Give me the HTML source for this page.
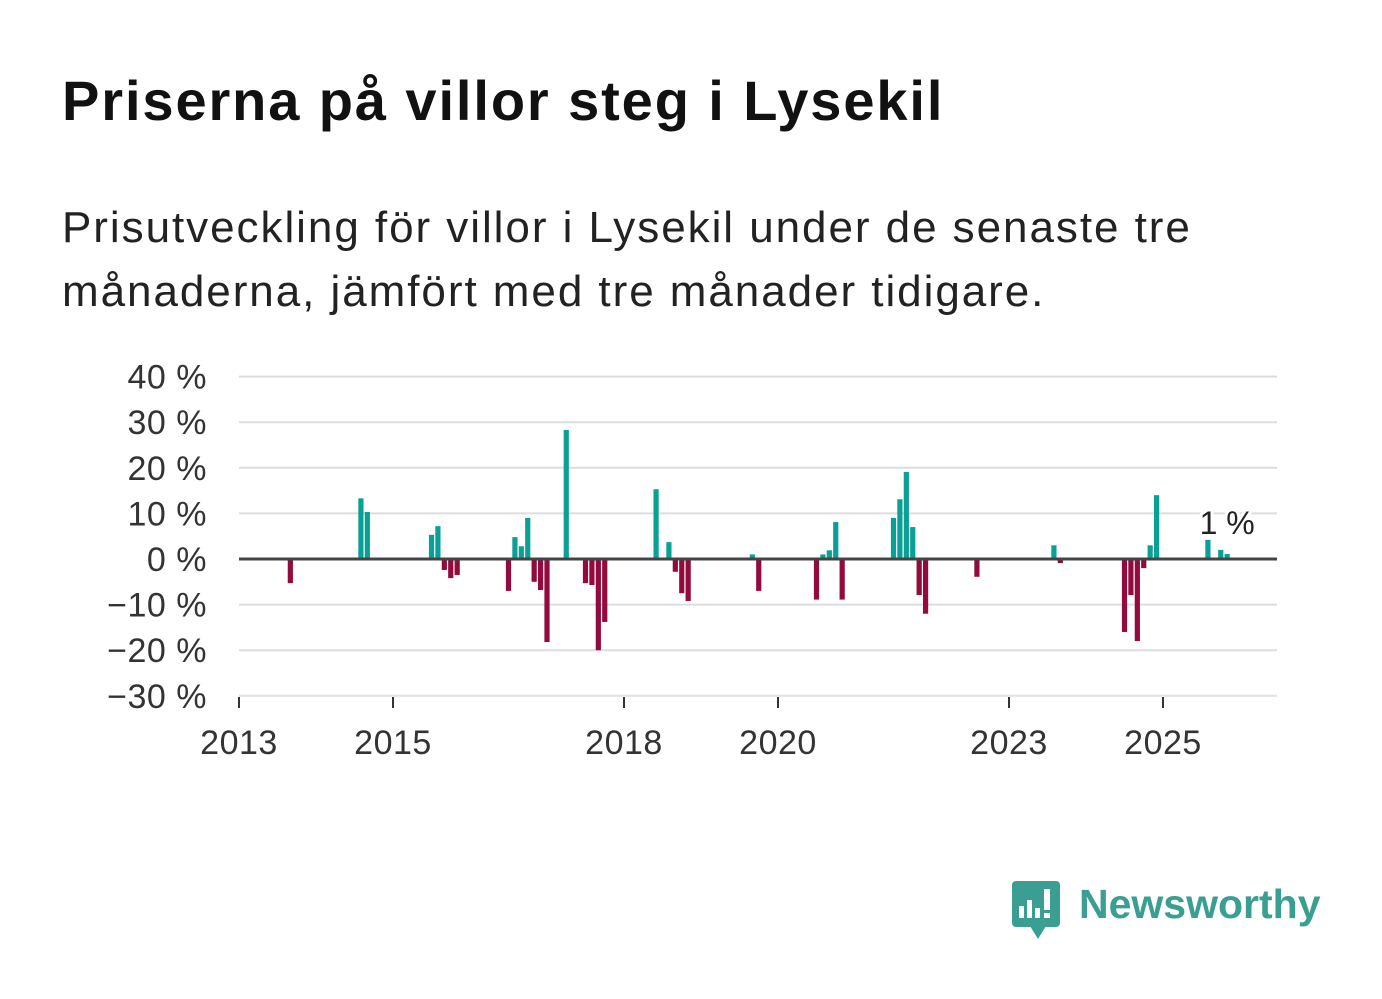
<!DOCTYPE html>
<html><head><meta charset="utf-8"><style>
body{margin:0;background:#fff;font-family:"Liberation Sans","DejaVu Sans",sans-serif;}
#wrap{position:relative;width:1382px;height:999px;overflow:hidden;}
h1{position:absolute;left:62px;top:68px;margin:0;font-size:56px;font-weight:bold;color:#111;letter-spacing:1.9px;}
#sub{position:absolute;left:62px;top:196px;margin:0;font-size:44px;line-height:64px;color:#222;width:1320px;letter-spacing:1.95px;}
svg{position:absolute;left:0;top:0;}
</style></head><body>
<div id="wrap">
<h1>Priserna på villor steg i Lysekil</h1>
<p id="sub">Prisutveckling för villor i Lysekil under de senaste tre<br>månaderna, jämfört med tre månader tidigare.</p>
<svg id="chart" width="1382" height="999"></svg>
</div>
<script>
const months = ["2013-09","2014-08","2014-09","2015-07","2015-08","2015-09","2015-10","2015-11","2016-07","2016-08","2016-09","2016-10","2016-11","2016-12","2017-01","2017-04","2017-07","2017-08","2017-09","2017-10","2018-06","2018-08","2018-09","2018-10","2018-11","2019-09","2019-10","2020-07","2020-08","2020-09","2020-10","2020-11","2021-07","2021-08","2021-09","2021-10","2021-11","2021-12","2022-08","2023-08","2023-09","2024-07","2024-08","2024-09","2024-10","2024-11","2024-12","2025-08","2025-10","2025-11"];
const values = [-5.3,13.3,10.3,5.3,7.2,-2.4,-4.2,-3.5,-7,4.8,2.8,9,-5,-6.8,-18.2,28.3,-5.3,-5.7,-20,-13.8,15.3,3.7,-2.8,-7.5,-9.2,1,-7,-8.9,1,1.9,8.1,-8.9,9,13.1,19.1,7,-7.9,-12,-3.9,3,-0.9,-16,-7.9,-18,-2,3,14,4.2,2,1.1];
const yTicks = [40,30,20,10,0,-10,-20,-30];
const xTickYears = [2013,2015,2018,2020,2023,2025];
const lastLabel = "1 %";

const svg = document.getElementById('chart');
const NS = "http://www.w3.org/2000/svg";
const x0 = 239, x1 = 1277, pxPerYear = 77;
function yScale(v){ return 559 - v*4.56; }
function xScale(y, m){ return x0 + ((y-2013)*12 + (m-1))*pxPerYear/12; }
function mk(tag, attrs){ const e=document.createElementNS(NS,tag); for(const k in attrs) e.setAttribute(k,attrs[k]); svg.appendChild(e); return e; }

yTicks.forEach(t=>{
  const y=yScale(t);
  if(t!==0){ const g=mk('line',{x1:x0,x2:x1,y1:y,y2:y,stroke:'#dddddd','stroke-width':2});
    
     }
  const lb=mk('text',{x:207,y:y+12,'text-anchor':'end','font-size':34,fill:'#333','letter-spacing':0.5});
  lb.textContent=(t<0?'\u2212'+(-t):t)+' %';
  
  
});
const bl=mk('line',{x1:x0,x2:x1,y1:yScale(-30),y2:yScale(-30),stroke:'#e6e6e6','stroke-width':1});


xTickYears.forEach(yr=>{
  const x=xScale(yr,1);
  const tk=mk('line',{x1:x,x2:x,y1:697,y2:708,stroke:'#333','stroke-width':2});
  
  
  const lb=mk('text',{x:x,y:754,'text-anchor':'middle','font-size':34,fill:'#333','letter-spacing':0.5});
  lb.textContent=yr;
  
  
});
months.forEach((d,i)=>{
  const [yy,mm]=d.split('-').map(Number);
  const x=xScale(yy,mm), v=values[i];
  const top=Math.min(yScale(v),yScale(0)), h=Math.abs(yScale(v)-yScale(0));
  const r=mk('rect',{x:x-2.6,y:top,width:5.2,height:h,fill:v>=0?'#0aa095':'#930a3d'});
  
  
});
const zl=mk('line',{x1:x0,x2:x1,y1:yScale(0),y2:yScale(0),stroke:'#444','stroke-width':3});


const last=months[months.length-1].split('-').map(Number);
const ll=mk('text',{x:xScale(last[0],last[1]),y:534,'text-anchor':'middle','font-size':32,fill:'#222',stroke:'#fff','stroke-width':6,'paint-order':'stroke'});
ll.textContent=lastLabel;



const lg=document.createElementNS(NS,'g');


svg.appendChild(lg);
lg.innerHTML='<rect x="1012" y="881" width="48" height="46" rx="4" fill="#3b9e93"/><polygon points="1030,926 1046,926 1038,939" fill="#3b9e93"/>'+
'<rect x="1019" y="906" width="5" height="12" fill="#fff"/><rect x="1027" y="900" width="5" height="18" fill="#fff"/><rect x="1035" y="908" width="5" height="10" fill="#fff"/><rect x="1044" y="889" width="6" height="21" fill="#fff"/><rect x="1044" y="913" width="6" height="5" fill="#fff"/>'+
'<text x="1079" y="918" font-size="41" font-weight="bold" fill="#3b9e93">Newsworthy</text>';
</script>
</body></html>
